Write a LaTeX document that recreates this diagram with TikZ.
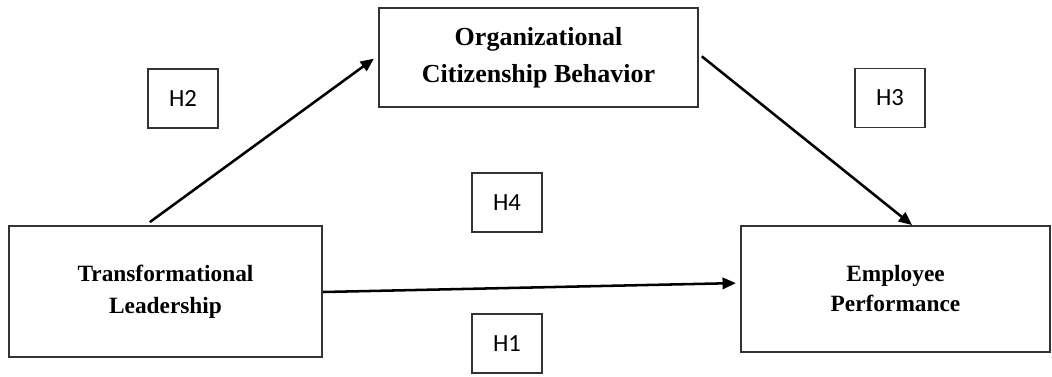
\documentclass[tikz,border=0pt]{standalone}
\usepackage{fontspec}
\setmainfont{Liberation Serif}
\newfontfamily\hypfont{Carlito}
\usetikzlibrary{arrows.meta,calc}

\begin{document}
\begin{tikzpicture}[x=.75pt,y=-.75pt,
    var/.style={draw=black!80,line width=1.4pt,align=center,inner sep=0pt},
    hyp/.style={draw=black!80,line width=1.2pt,minimum width=52.5pt,
      minimum height=44.5pt,inner sep=0pt,font=\hypfont\fontsize{18.5}{20}\selectfont},
    link/.style={line width=1.9pt,-{Triangle[length=10pt,width=8.5pt]}}]
  \useasboundingbox (0,0) rectangle (1052,376);
  % variables
  \node[var,minimum width=239pt,minimum height=74pt,
    font=\fontsize{19.5}{27.5}\selectfont\bfseries] (ocb) at (538.5,57.5)
    {Organizational\\Citizenship Behavior};
  \node[var,minimum width=235pt,minimum height=98pt,
    font=\fontsize{17.5}{24}\selectfont\bfseries] (tl) at (165.5,291.5)
    {Transformational\\Leadership};
  \node[var,minimum width=232pt,minimum height=94.5pt,
    font=\fontsize{17.5}{22.5}\selectfont\bfseries] (ep) at (895.5,289)
    {Employee\\Performance};
  % hypotheses
  \node[hyp] (h2) at (183,98.5) {H2};
  \node[hyp] (h3) at (890,98) {H3};
  \node[hyp] (h4) at (507,202.5) {H4};
  \node[hyp] (h1) at (507,343.5) {H1};
  % paths
  \draw[link,shorten <=4pt,shorten >=4pt] ($(tl.north)+(-20,0)$) -- ($(ocb.west)+(0,-2)$);
  \draw[link,shorten <=1pt] ($(ocb.east)+(2,-2)$) -- ($(ep.north)+(16.5,0)$);
  \draw[link,shorten >=3pt] ($(tl.east)+(0,0.5)$) -- ($(ep.west)+(0,-6)$);
\end{tikzpicture}
\end{document}
